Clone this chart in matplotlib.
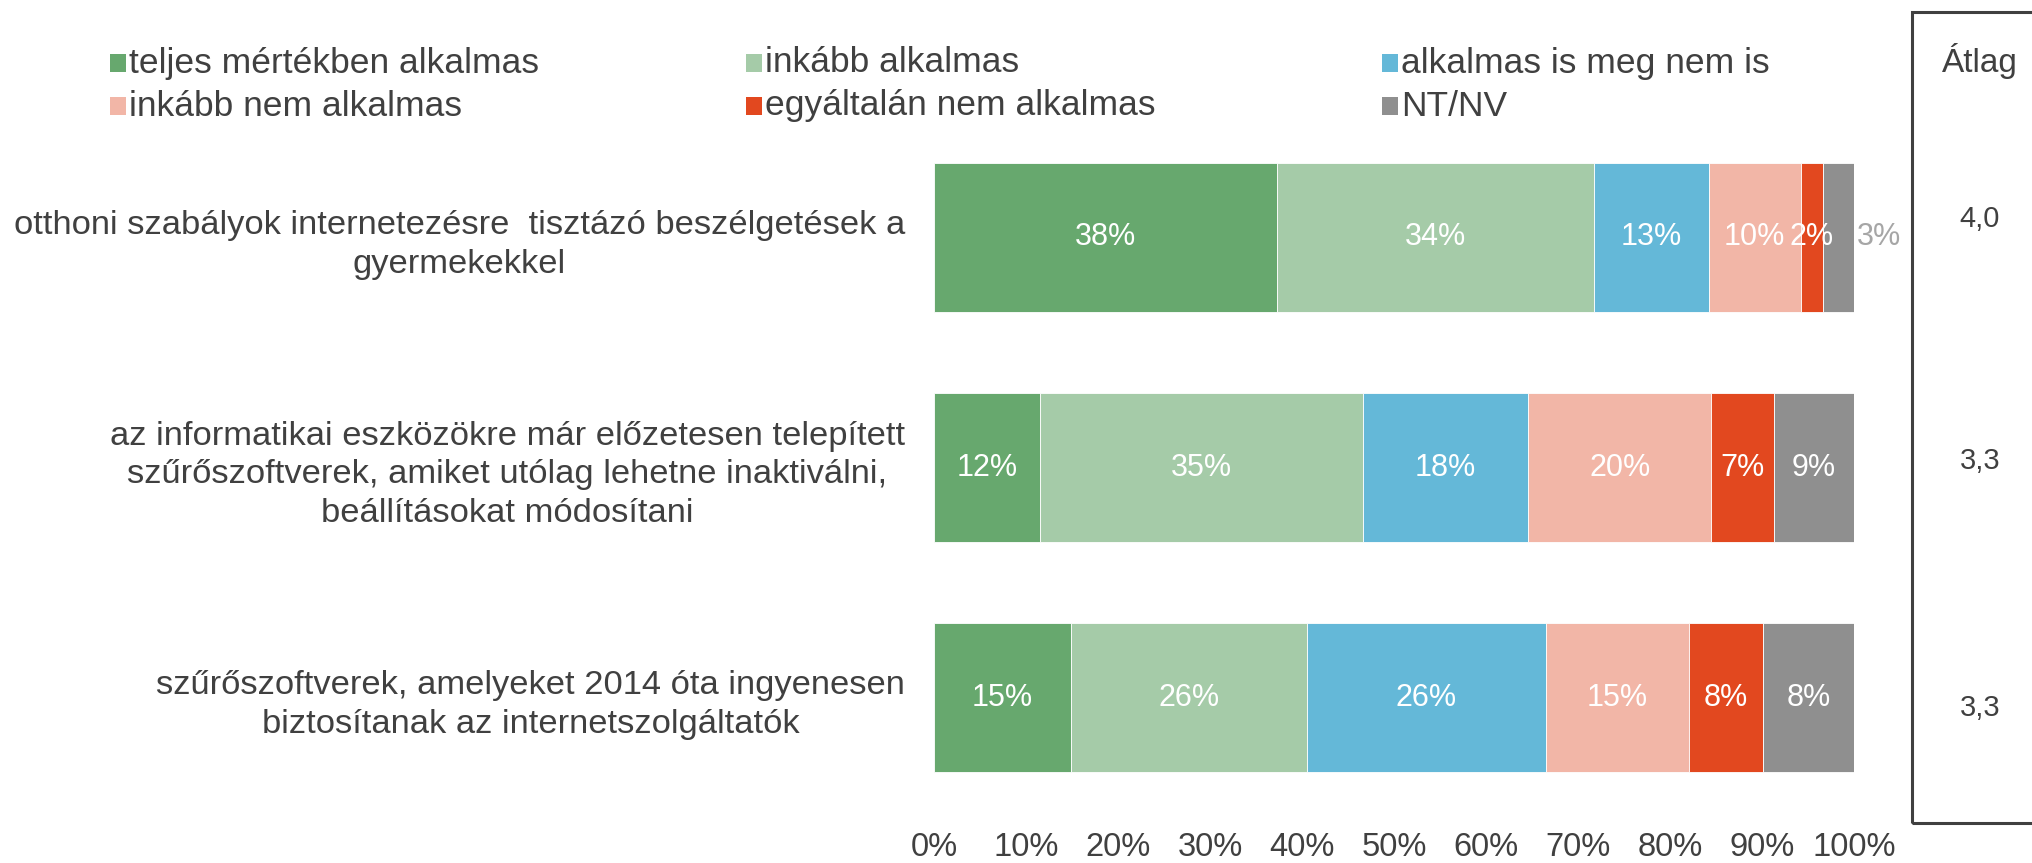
import numpy as np
import matplotlib.pyplot as plt
from matplotlib.patches import Rectangle

plt.rcParams['font.family'] = ['Liberation Sans', 'DejaVu Sans']

categories = [
    'otthoni szabályok internetezésre  tisztázó beszélgetések a\ngyermekekkel',
    'az informatikai eszközökre már előzetesen telepített\nszűrőszoftverek, amiket utólag lehetne inaktiválni,\nbeállításokat módosítani',
    'szűrőszoftverek, amelyeket 2014 óta ingyenesen\nbiztosítanak az internetszolgáltatók',
]
series = ['teljes mértékben alkalmas', 'inkább alkalmas', 'alkalmas is meg nem is',
          'inkább nem alkalmas', 'egyáltalán nem alkalmas', 'NT/NV']
colors = ['#67A86E', '#A5CBA8', '#64B8D8', '#F2B6A7', '#E2481F', '#8F8F8F']

# segment widths (%)
teljes = [37.3, 11.5, 14.9]
inkabb = [34.4, 35.1, 25.6]
semleges = [12.5, 18.0, 26.0]
inkabb_nem = [10.0, 19.9, 15.6]
egyaltalan = [2.4, 6.8, 8.0]
ntnv = [3.4, 8.7, 9.9]
widths = [teljes, inkabb, semleges, inkabb_nem, egyaltalan, ntnv]

# data labels as printed on the chart
lbl_teljes = [38, 12, 15]
lbl_inkabb = [34, 35, 26]
lbl_semleges = [13, 18, 26]
lbl_inkabb_nem = [10, 20, 15]
lbl_egyaltalan = [2, 7, 8]
lbl_ntnv = [3, 9, 8]
printed = [lbl_teljes, lbl_inkabb, lbl_semleges, lbl_inkabb_nem, lbl_egyaltalan, lbl_ntnv]

atlag = [4.0, 3.3, 3.3]
xticks = np.arange(0, 101, 10)

W, H = 2033, 863
fig = plt.figure(figsize=(W / 100, H / 100), dpi=100)
ax = fig.add_axes([934 / W, 1 - 813 / H, 920 / W, 691 / H])

txt = '#404040'
y = np.arange(len(categories))
left = np.zeros(len(categories))
for i in range(len(series)):
    ax.barh(y, widths[i], left=left, height=0.646, color=colors[i],
            edgecolor='white', linewidth=0.6)
    for j in range(len(categories)):
        xc = left[j] + widths[i][j] / 2
        if i == 5 and j == 0:
            # too narrow, label sits outside the bar
            ax.text(left[j] + widths[i][j] + 0.3, y[j], f'{printed[i][j]}%',
                    ha='left', va='center', fontsize=22, color='#a6a6a6')
        else:
            ax.text(xc, y[j], f'{printed[i][j]}%', ha='center', va='center',
                    fontsize=22, color='white')
    left += np.array(widths[i])

ax.set_xlim(0, 100)
ax.set_ylim(2.5, -0.5)
ax.set_xticks(xticks, [f'{t}%' for t in xticks])
ax.set_yticks(y, categories)
for lab in ax.get_yticklabels():
    lab.set_multialignment('center')
    lab.set_linespacing(1.33)
ax.tick_params(axis='x', length=0, pad=14, labelsize=23.5, labelcolor=txt)
ax.tick_params(axis='y', length=0, pad=21, labelsize=24.8, labelcolor=txt)
for s in ax.spines.values():
    s.set_visible(False)

# legend, drawn by hand in two rows of three
leg_x = [110, 746, 1382]
leg_y = [63, 106]
for i, name in enumerate(series):
    cx = leg_x[i % 3]
    cy = leg_y[i // 3]
    fig.add_artist(Rectangle((cx / W, 1 - (cy + 9) / H), 16 / W, 18 / H,
                             transform=fig.transFigure, color=colors[i], lw=0))
    fig.text((cx + 19) / W, 1 - cy / H, name, ha='left', va='center',
             fontsize=25.5, color=txt)

# Átlag box
fig.add_artist(Rectangle((1912 / W, 1 - 823 / H), 0.2, 811 / H,
                         transform=fig.transFigure, fill=False,
                         ec='#404040', lw=2.2, clip_on=False))
fig.text(1980 / W, 1 - 61 / H, 'Átlag', ha='center', va='center', fontsize=24, color=txt)
for v, yy in zip(atlag, [219, 461, 708]):
    fig.text(1980 / W, 1 - yy / H, f'{v:.1f}'.replace('.', ','), ha='center',
             va='center', fontsize=21, color=txt)

fig.savefig('out.png', dpi=100)
